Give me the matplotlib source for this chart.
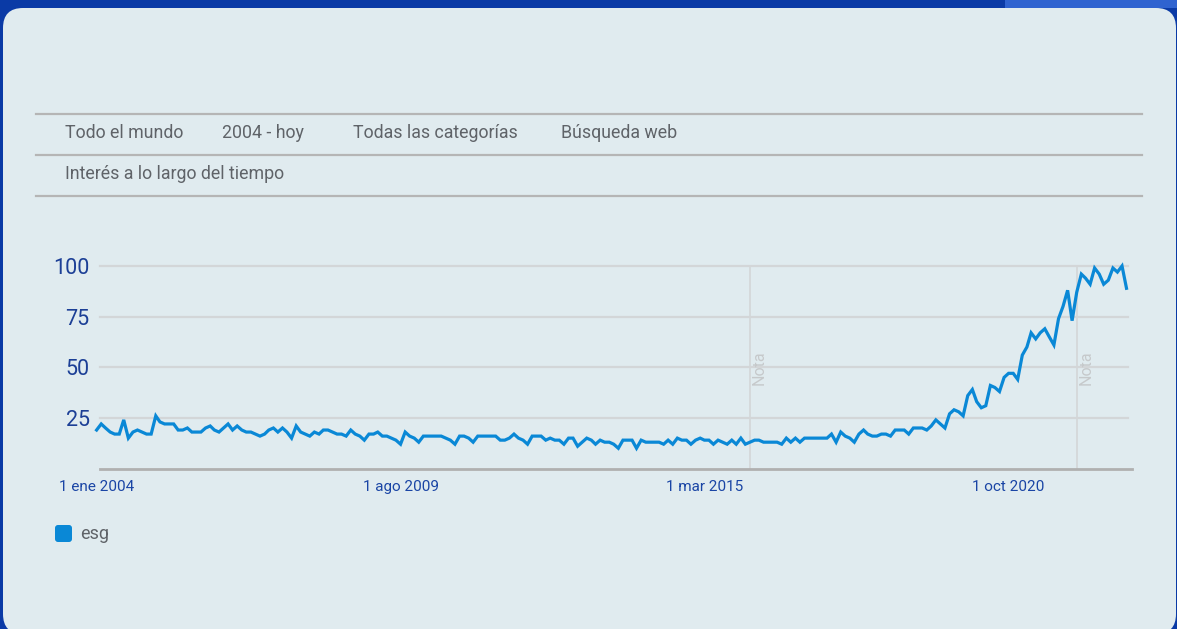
import matplotlib
matplotlib.use("Agg")
import matplotlib.pyplot as plt
import matplotlib.dates as mdates
from matplotlib.patches import FancyBboxPatch, Rectangle
import pandas as pd

# datos (Google Trends, "esg", mensual ene 2004 - dic 2022)
valores = [
    19, 22, 20, 18, 17, 17, 24, 15, 18, 19, 18, 17, 17, 26, 23, 22, 22, 22, 19, 19,
    20, 18, 18, 18, 20, 21, 19, 18, 20, 22, 19, 21, 19, 18, 18, 17, 16, 17, 19, 20,
    18, 20, 18, 15, 21, 18, 17, 16, 18, 17, 19, 19, 18, 17, 17, 16, 19, 17, 16, 14,
    17, 17, 18, 16, 16, 15, 14, 12, 18, 16, 15, 13, 16, 16, 16, 16, 16, 15, 14, 12,
    16, 16, 15, 13, 16, 16, 16, 16, 16, 14, 14, 15, 17, 15, 14, 12, 16, 16, 16, 14,
    15, 14, 14, 12, 15, 15, 11, 13, 15, 14, 12, 14, 13, 13, 12, 10, 14, 14, 14, 10,
    14, 13, 13, 13, 13, 12, 14, 12, 15, 14, 14, 12, 14, 15, 14, 14, 12, 14, 13, 12,
    14, 12, 15, 12, 13, 14, 14, 13, 13, 13, 13, 12, 15, 13, 15, 13, 15, 15, 15, 15,
    15, 15, 17, 13, 18, 16, 15, 13, 17, 19, 17, 16, 16, 17, 17, 16, 19, 19, 19, 17,
    20, 20, 20, 19, 21, 24, 22, 20, 27, 29, 28, 26, 36, 39, 33, 30, 31, 41, 40, 38,
    45, 47, 47, 44, 56, 60, 67, 64, 67, 69, 65, 61, 74, 80, 88, 73, 87, 96, 94, 91,
    99, 96, 91, 93, 99, 97, 100, 89,
]
fechas = pd.date_range("2004-01-01", periods=len(valores), freq="MS")
ticks_fechas = ["2004-01-01", "2009-08-01", "2015-03-01", "2020-10-01"]
ticks_textos = ["1 ene 2004", "1 ago 2009", "1 mar 2015", "1 oct 2020"]
notas = ["2016-01-01", "2022-01-01"]
y_ticks = [25, 50, 75, 100]
filtros = ["Todo el mundo", "2004 - hoy", "Todas las categorías", "Búsqueda web"]
filtros_x = [65, 222, 353, 561]
termino = "esg"

W, H = 1177, 629
fondo = "#e0ebef"
azul_linea = "#0a88d6"
gris = "#5f6368"

fig = plt.figure(figsize=(W / 100, H / 100), dpi=100, facecolor="#0a3aa6")

def px(x, y):
    return x / W, 1 - y / H

# tarjeta clara (detras de todo)
fig.patches.append(FancyBboxPatch((3 / 100, -0.05), (1173) / 100, (H - 8) / 100 + 0.05,
                                  boxstyle="round,pad=0,rounding_size=0.2",
                                  transform=fig.dpi_scale_trans, facecolor=fondo,
                                  edgecolor="none", zorder=-5))
fig.patches.append(Rectangle((1005 / 100, (H - 8) / 100), 172 / 100, 8 / 100,
                             transform=fig.dpi_scale_trans, facecolor="#2f63d0",
                             edgecolor="none", zorder=-5))

# lineas separadoras de cabecera
for yy in [114, 155, 196]:
    fig.add_artist(plt.Line2D([36 / W, 1142 / W], [1 - yy / H, 1 - yy / H],
                              color="#b5b5b5", lw=1.6, transform=fig.transFigure))

fuente = ["Roboto", "DejaVu Sans"]
for t, xx in zip(filtros, filtros_x):
    fig.text(*px(xx, 133), t, fontsize=12.8, color=gris, va="center", ha="left", family=fuente)
fig.text(*px(65, 174), "Interés a lo largo del tiempo", fontsize=12.8, color=gris,
         va="center", ha="left", family=fuente)

# ejes del grafico
x0, x1 = 96.6, 1126.5
y0, y1 = 468.5, 266
ax = fig.add_axes([x0 / W, 1 - y0 / H, (x1 - x0) / W, (y0 - y1) / H])
ax.set_facecolor("none")
ax.set_xlim(fechas[0], fechas[-1])
ax.set_ylim(0, 100)

for v in y_ticks:
    ax.axhline(v, xmin=0.003, xmax=1.001, color="#d3d6d8", lw=1.6, zorder=1, clip_on=False)
for n in notas:
    d = pd.Timestamp(n)
    ax.axvline(d, color="#d3d6d8", lw=1.2, zorder=1)
    ax.text(d + pd.Timedelta(days=60), 50, "Nota", rotation=90, ha="center", va="center",
            fontsize=11.5, color="#c6c9cb", family=fuente)

ax.plot(fechas, valores, color=azul_linea, lw=2.3, zorder=3, clip_on=False,
        solid_joinstyle="miter")

for s in ["top", "right", "left"]:
    ax.spines[s].set_visible(False)
ax.spines["bottom"].set_color("#b0b0b0")
ax.spines["bottom"].set_linewidth(2)
ax.spines["bottom"].set_bounds(mdates.date2num(fechas[0] + pd.Timedelta(days=20)),
                               mdates.date2num(fechas[-1] + pd.Timedelta(days=40)))

ax.set_yticks(y_ticks)
ax.set_yticklabels([str(v) for v in y_ticks], fontsize=15.5, color="#1c3f96", family=fuente)
ax.set_xticks([pd.Timestamp(t) for t in ticks_fechas])
ax.set_xticklabels(ticks_textos, fontsize=11, color="#1a45a5", family=fuente)
ax.tick_params(axis="y", length=0, pad=5)
ax.tick_params(axis="x", length=0, pad=8.5)

# leyenda
fig.patches.append(FancyBboxPatch((55 / 100, (H - 542) / 100), 17 / 100, 17 / 100,
                                  boxstyle="round,pad=0,rounding_size=0.03",
                                  transform=fig.dpi_scale_trans, facecolor=azul_linea,
                                  edgecolor="none"))
fig.text(*px(80, 534), termino, fontsize=13, color=gris, va="center", ha="left", family=fuente)

fig.savefig("out.png", dpi=100, facecolor=fig.get_facecolor())
